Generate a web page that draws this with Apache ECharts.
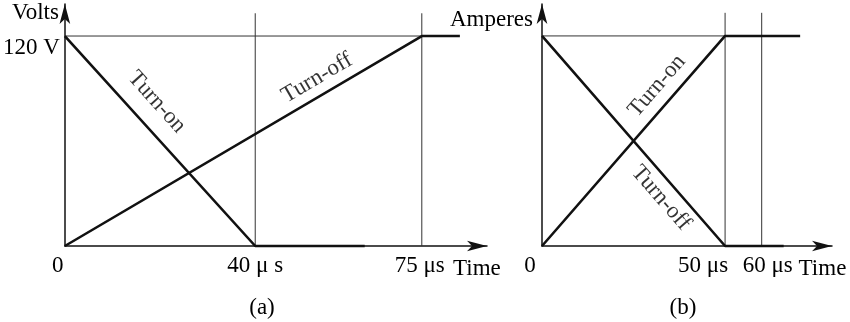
<!DOCTYPE html>
<html>
<head>
<meta charset="utf-8">
<script src="https://cdn.jsdelivr.net/npm/echarts@6/dist/echarts.min.js"></script>
<style>
  html, body { margin: 0; padding: 0; background: #fff; }
  #chart { width: 850px; height: 322px; }
</style>
</head>
<body>
<div id="chart"></div>
<script>
// ---- Panel (a): switch voltage (V) against time (µs) ----
const voltPeak = 120;
const voltTurnOn = [[0, 120], [40, 0], [63, 0]];
const voltTurnOff = [[0, 0], [75, 120], [83, 120]];
const voltMarkTimes = [40, 75];
const voltTickValues = [0, 40, 75];
const voltTickLabels = ['0', '40 \u03bc s', '75 \u03bcs'];

// ---- Panel (b): switch current (peak = 1) against time (µs) ----
const ampPeak = 1;
const ampTurnOn = [[0, 0], [50, 1], [70.5, 1]];
const ampTurnOff = [[0, 1], [50, 0], [66, 0]];
const ampMarkTimes = [50, 60];
const ampTickValues = [0, 50, 60];
const ampTickLabels = ['0', '50 \u03bcs', '60 \u03bcs'];

// ---- styling ----
const FONT = 'Liberation Serif';
const INK = '#000';
const FS = 23;
const thick = { color: '#111', width: 2.6 };
const thin = { color: '#333', width: 1 };

// horizontal nudges for the time labels (rich-text padding: [left, right])
const voltLabelPad = [[0, 14], [0, 0], [0, 4]];
const ampLabelPad = [[0, 24], [0, 44], [12, 0]];

function timeAxis(gridIndex, max, values, labels, pads) {
  const rich = {};
  pads.forEach((p, i) => {
    rich['t' + i] = { fontFamily: FONT, fontSize: FS, color: INK, padding: [0, p[1], 0, p[0]] };
  });
  return {
    type: 'value', gridIndex, min: 0, max,
    axisLine: { show: true, onZero: false, lineStyle: { color: '#111', width: 1.5 },
                symbol: ['none', 'arrow'], symbolSize: [8, 20] },
    axisTick: { show: false },
    splitLine: { show: false },
    axisLabel: {
      customValues: values, margin: 8, fontFamily: FONT, fontSize: FS, color: INK,
      formatter: (v) => {
        const i = values.indexOf(v);
        return i < 0 ? '' : '{t' + i + '|' + labels[i] + '}';
      },
      rich
    },
    name: 'Time', nameLocation: 'end', nameGap: -34,
    nameTextStyle: { fontFamily: FONT, fontSize: FS, color: INK, align: 'left',
                     verticalAlign: 'top', padding: [11, 0, 0, 0] }
  };
}

function levelAxis(gridIndex, max, name, nameGap, padRight, labelValue, labelText) {
  return {
    type: 'value', gridIndex, min: 0, max,
    axisLine: { show: true, onZero: false, lineStyle: { color: '#111', width: 1.5 },
                symbol: ['none', 'arrow'], symbolSize: [8, 20] },
    axisTick: { show: false },
    splitLine: { show: false },
    axisLabel: labelText ? {
      customValues: [labelValue], formatter: () => labelText,
      margin: 5, fontFamily: FONT, fontSize: FS, color: INK,
      verticalAlign: 'top', padding: [0, 0, 0, 0]
    } : { show: false },
    name, nameLocation: 'end', nameGap,
    nameTextStyle: { fontFamily: FONT, fontSize: FS, color: INK, align: 'right',
                     verticalAlign: 'middle', padding: [0, padRight, 0, 0] }
  };
}

function line(axis, data, style) {
  return {
    type: 'line', xAxisIndex: axis, yAxisIndex: axis, data,
    symbol: 'none', clip: false, silent: true, animation: false,
    lineStyle: style, z: style === thick ? 3 : 2
  };
}

function tag(axis, at, text, rotate) {
  return {
    type: 'scatter', xAxisIndex: axis, yAxisIndex: axis, symbolSize: 0,
    silent: true, animation: false, z: 4,
    data: [{ value: at }],
    label: { show: true, position: 'inside', formatter: text, rotate,
             fontFamily: FONT, fontSize: FS, color: INK }
  };
}

const voltTop = 133;     // reach of the vertical time markers
const ampTop = 1.11;

const series = [
  // panel (a) guides
  line(0, [[0, voltPeak], [voltMarkTimes[1], voltPeak]], thin),
  ...voltMarkTimes.map(t => line(0, [[t, 0], [t, voltTop]], thin)),
  // panel (a) waveforms
  line(0, voltTurnOn, thick),
  line(0, voltTurnOff, thick),
  tag(0, [19.3, 82.3], 'Turn-on', -48),
  tag(0, [53, 96], 'Turn-off', 30.4),
  // panel (b) guides
  line(1, [[0, ampPeak], [ampMarkTimes[0], ampPeak]], thin),
  ...ampMarkTimes.map(t => line(1, [[t, 0], [t, ampTop]], thin)),
  // panel (b) waveforms
  line(1, ampTurnOn, thick),
  line(1, ampTurnOff, thick),
  tag(1, [31.4, 0.762], 'Turn-on', 49),
  tag(1, [32.5, 0.229], 'Turn-off', -49)
];

const chart = echarts.init(document.getElementById('chart'), null, { renderer: 'canvas' });
chart.setOption({
  backgroundColor: '#fff',
  animation: false,
  title: [
    { text: '(a)', left: 257, top: 291, textAlign: 'center',
      textStyle: { fontFamily: FONT, fontSize: FS, fontWeight: 'normal', color: INK } },
    { text: '(b)', left: 678, top: 291, textAlign: 'center',
      textStyle: { fontFamily: FONT, fontSize: FS, fontWeight: 'normal', color: INK } }
  ],
  grid: [
    { left: 63, top: 4, width: 424, height: 242 },
    { left: 542, top: 4, width: 290, height: 242 }
  ],
  xAxis: [
    timeAxis(0, 88.7, voltTickValues, voltTickLabels, voltLabelPad),
    timeAxis(1, 79.2, ampTickValues, ampTickLabels, ampLabelPad)
  ],
  yAxis: [
    levelAxis(0, 138.3, 'Volts', -9, 6, voltPeak, '120 V'),
    levelAxis(1, 1.152, 'Amperes', -16, 9)
  ],
  series
});
</script>
</body>
</html>
